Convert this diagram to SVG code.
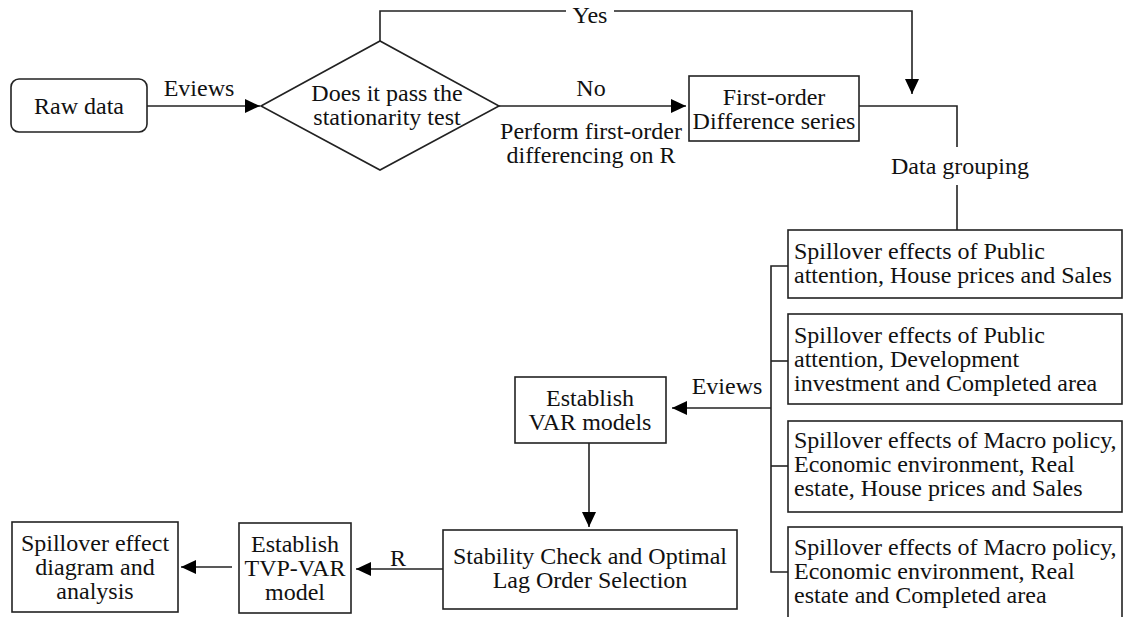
<svg xmlns="http://www.w3.org/2000/svg" width="1124" height="617" viewBox="0 0 1124 617">
<style>
text{font-family:"Liberation Serif","Times New Roman",serif;font-size:24px;fill:#111}
.c{text-anchor:middle}
.box{fill:#fff;stroke:#222;stroke-width:1.6}
.ln{fill:none;stroke:#222;stroke-width:1.6}
</style>
<defs>
<marker id="ah" markerUnits="userSpaceOnUse" markerWidth="16" markerHeight="16" refX="15" refY="7" orient="auto">
<path d="M0,0 L15,7 L0,14 z" fill="#000"/>
</marker>
</defs>
<g id="connectors">
<line class="ln" x1="147" y1="106" x2="260" y2="106" marker-end="url(#ah)"/>
<polyline class="ln" points="380,41 380,11 566,11"/>
<polyline class="ln" points="614,11 912,11 912,94" marker-end="url(#ah)"/>
<line class="ln" x1="499" y1="106" x2="686" y2="106" marker-end="url(#ah)"/>
<polyline class="ln" points="859,106 957,106 957,147"/>
<line class="ln" x1="957" y1="185" x2="957" y2="230"/>
<polyline class="ln" points="788,266 771,266 771,572 788,572"/>
<line class="ln" x1="771" y1="361" x2="788" y2="361"/>
<line class="ln" x1="771" y1="466" x2="788" y2="466"/>
<line class="ln" x1="771" y1="408" x2="672" y2="408" marker-end="url(#ah)"/>
<line class="ln" x1="589" y1="443" x2="589" y2="527" marker-end="url(#ah)"/>
<line class="ln" x1="443" y1="569" x2="356" y2="569" marker-end="url(#ah)"/>
<line class="ln" x1="232" y1="567" x2="181" y2="567" marker-end="url(#ah)"/>
<text x="199" y="96" class="c">Eviews</text>
<text x="590" y="23" class="c">Yes</text>
<text x="591" y="96" class="c">No</text>
<text x="591" y="139" class="c">Perform first-order</text>
<text x="591" y="163" class="c">differencing on R</text>
<text x="960" y="174" class="c">Data grouping</text>
<text x="727" y="394" class="c">Eviews</text>
<text x="398" y="566" class="c">R</text>
</g>
<g id="raw-data">
<rect class="box" x="11" y="79" width="136" height="53" rx="8"/>
<text x="79" y="114" class="c">Raw data</text>
</g>
<g id="stationarity-test">
<polygon class="box" points="261,106 380,41 499,106 380,170"/>
<text x="387" y="101" class="c">Does it pass the</text>
<text x="387" y="125" class="c">stationarity test</text>
</g>
<g id="first-order">
<rect class="box" x="689" y="76" width="170" height="65"/>
<text x="774" y="105" class="c">First-order</text>
<text x="774" y="129" class="c">Difference series</text>
</g>
<g id="group1">
<rect class="box" x="788" y="230" width="334" height="68"/>
<text x="794" y="259">Spillover effects of Public</text>
<text x="794" y="283">attention, House prices and Sales</text>
</g>
<g id="group2">
<rect class="box" x="788" y="314" width="334" height="90"/>
<text x="794" y="343">Spillover effects of Public</text>
<text x="794" y="367">attention, Development</text>
<text x="794" y="391">investment and Completed area</text>
</g>
<g id="group3">
<rect class="box" x="788" y="421" width="334" height="91"/>
<text x="794" y="448">Spillover effects of Macro policy,</text>
<text x="794" y="472">Economic environment, Real</text>
<text x="794" y="496">estate, House prices and Sales</text>
</g>
<g id="group4">
<rect class="box" x="788" y="527" width="334" height="110"/>
<text x="794" y="555">Spillover effects of Macro policy,</text>
<text x="794" y="579">Economic environment, Real</text>
<text x="794" y="603">estate and Completed area</text>
</g>
<g id="var-models">
<rect class="box" x="515" y="377" width="151" height="66"/>
<text x="590" y="406" class="c">Establish</text>
<text x="590" y="430" class="c">VAR models</text>
</g>
<g id="stability">
<rect class="box" x="443" y="530" width="294" height="79"/>
<text x="590" y="564" class="c">Stability Check and Optimal</text>
<text x="590" y="588" class="c">Lag Order Selection</text>
</g>
<g id="tvp-var">
<rect class="box" x="239" y="523" width="112" height="90"/>
<text x="295" y="552" class="c">Establish</text>
<text x="295" y="576" class="c">TVP-VAR</text>
<text x="295" y="600" class="c">model</text>
</g>
<g id="spillover-analysis">
<rect class="box" x="12" y="522" width="166" height="90"/>
<text x="95" y="551" class="c">Spillover effect</text>
<text x="95" y="575" class="c">diagram and</text>
<text x="95" y="599" class="c">analysis</text>
</g>
</svg>
